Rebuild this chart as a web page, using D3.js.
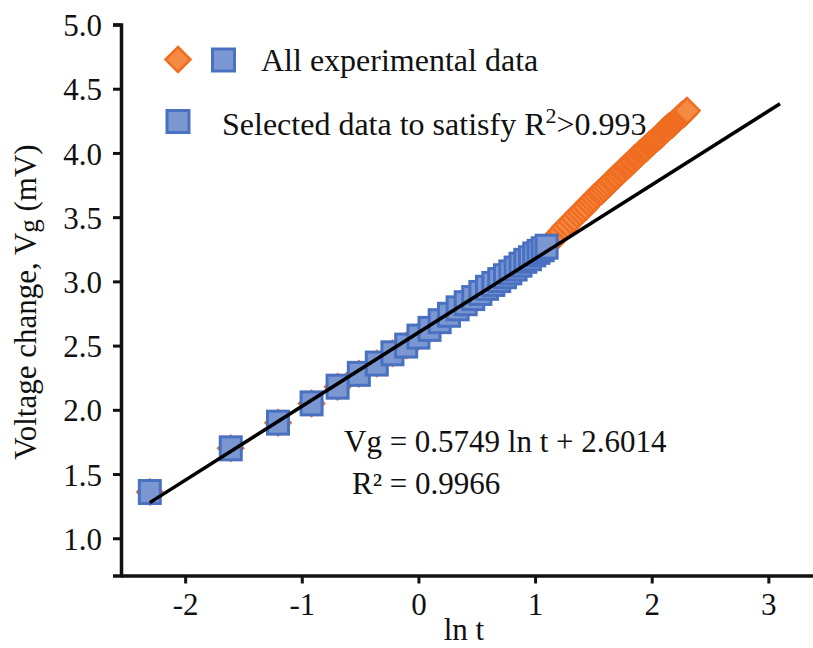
<!DOCTYPE html>
<html>
<head>
<meta charset="utf-8">
<script src="https://cdn.jsdelivr.net/npm/d3@7"></script>
<style>
  html, body { margin: 0; padding: 0; background: #fff; }
  svg { display: block; }
  svg text { font-family: "Liberation Serif", "Times New Roman", serif !important; fill: #111; }
</style>
</head>
<body>
<svg id="chart" width="813" height="648" font-family="Liberation Serif, serif"></svg>
<script>
// ln t for the selected points (t = 0.1 … 3.0 s)
const selectedLnT = [-2.303, -1.609, -1.204, -0.916, -0.693, -0.511, -0.357, -0.223, -0.105, 0.000,
  0.095, 0.182, 0.262, 0.336, 0.405, 0.470, 0.531, 0.588, 0.642, 0.693,
  0.742, 0.788, 0.833, 0.875, 0.916, 0.956, 0.993, 1.030, 1.065, 1.099];
const selectedVg = [1.36, 1.70, 1.90, 2.05, 2.18, 2.28, 2.36, 2.44, 2.50, 2.57,
  2.63, 2.69, 2.74, 2.79, 2.83, 2.87, 2.91, 2.95, 2.98, 3.01,
  3.04, 3.07, 3.10, 3.13, 3.16, 3.18, 3.21, 3.23, 3.25, 3.27];

// ln t for the remaining measurements (t = 3.1 … 10.0 s)
const laterLnT = [1.131, 1.163, 1.194, 1.224, 1.253, 1.281, 1.308, 1.335, 1.361, 1.386,
  1.411, 1.435, 1.459, 1.482, 1.504, 1.526, 1.548, 1.569, 1.589, 1.609,
  1.629, 1.649, 1.668, 1.686, 1.705, 1.723, 1.740, 1.758, 1.775, 1.792,
  1.808, 1.825, 1.841, 1.856, 1.872, 1.887, 1.902, 1.917, 1.932, 1.946,
  1.960, 1.974, 1.988, 2.001, 2.015, 2.028, 2.041, 2.054, 2.067, 2.079,
  2.092, 2.104, 2.116, 2.128, 2.140, 2.152, 2.163, 2.175, 2.186, 2.197,
  2.208, 2.219, 2.230, 2.241, 2.251, 2.262, 2.272, 2.282, 2.293, 2.303];
const laterVg = [3.30, 3.33, 3.36, 3.39, 3.42, 3.44, 3.47, 3.49, 3.52, 3.54,
  3.56, 3.58, 3.61, 3.63, 3.65, 3.67, 3.69, 3.70, 3.72, 3.74,
  3.76, 3.78, 3.79, 3.81, 3.82, 3.84, 3.86, 3.87, 3.89, 3.90,
  3.91, 3.93, 3.94, 3.96, 3.97, 3.98, 4.00, 4.01, 4.02, 4.03,
  4.04, 4.06, 4.07, 4.08, 4.09, 4.10, 4.11, 4.12, 4.13, 4.14,
  4.16, 4.17, 4.18, 4.19, 4.20, 4.21, 4.21, 4.22, 4.23, 4.24,
  4.25, 4.26, 4.27, 4.28, 4.29, 4.30, 4.30, 4.31, 4.32, 4.33];

// Logarithmic fit of the selected data
const fitSlope = 0.5749;
const fitIntercept = 2.6014;
const fitR2 = 0.9966;
const fitRange = [-2.303, 3.1];

const xTicks = [-2, -1, 0, 1, 2, 3];
const yTicks = [1.0, 1.5, 2.0, 2.5, 3.0, 3.5, 4.0, 4.5, 5.0];

const legendAll = "All experimental data";
const legendSelected = ["Selected data to satisfy R", "2", ">0.993"];

const allVg = selectedVg.concat(laterVg);
const allPoints = selectedLnT.concat(laterLnT).map((x, i) => ({ x, y: allVg[i] }));
const selectedPoints = selectedLnT.map((x, i) => ({ x, y: selectedVg[i] }));

const SERIF = "Liberation Serif, Times New Roman, serif";
const svg = d3.select("#chart");
const FONT = 31;

const x = d3.scaleLinear().domain([-2.55, 3.4]).range([121, 815]);
const y = d3.scaleLinear().domain([0.71, 5.0]).range([575.5, 24.5]);

const blueFill = "#7b97d1", blueStroke = "#4a71c1";
const orangeFill = "#f58b43", orangeStroke = "#f06d21";

// axes
const gx = svg.append("g").attr("transform", `translate(0,${y.range()[0]})`)
  .call(d3.axisBottom(x).tickValues(xTicks).tickSize(8).tickSizeOuter(0).tickPadding(9)
    .tickFormat(d => d < 0 ? "-" + Math.abs(d) : String(d)))
  .attr("font-family", SERIF).attr("font-size", FONT);
gx.select(".domain").attr("stroke", "#111").attr("stroke-width", 3.5);
gx.selectAll(".tick line").attr("stroke", "#111").attr("stroke-width", 3);
gx.selectAll(".tick text").attr("fill", "#111");

const gy = svg.append("g").attr("transform", `translate(${x.range()[0]},0)`)
  .call(d3.axisLeft(y).tickValues(yTicks).tickSize(8).tickSizeOuter(8).tickPadding(11)
    .tickFormat(d3.format(".1f")))
  .attr("font-family", SERIF).attr("font-size", FONT);
gy.select(".domain").attr("stroke", "#111").attr("stroke-width", 3.5);
gy.selectAll(".tick line").attr("stroke", "#111").attr("stroke-width", 3);
gy.selectAll(".tick text").attr("fill", "#111").attr("dy", "0.36em");

// axis titles
svg.append("text").attr("x", 464).attr("y", 640).attr("text-anchor", "middle")
  .attr("font-family", SERIF).attr("font-size", FONT).text("ln t");

const yl = svg.append("text").attr("transform", "translate(36,302) rotate(-90)")
  .attr("text-anchor", "middle").attr("font-family", SERIF).attr("font-size", FONT);
yl.append("tspan").text("Voltage change, V");
yl.append("tspan").attr("font-size", 27).attr("dy", 2).text("g");
yl.append("tspan").attr("dy", -2).text(" (mV)");

// markers: every measurement as an orange diamond, the selected ones as blue squares on top
const diamond = "M0,-12.5L12.5,0L0,12.5L-12.5,0Z";
svg.append("g").selectAll("path").data(allPoints).join("path")
  .attr("d", diamond)
  .attr("transform", d => `translate(${x(d.x)},${y(d.y)})`)
  .attr("fill", orangeFill).attr("stroke", orangeStroke).attr("stroke-width", 2.5);

const SW = 21, SH = 23;
svg.append("g").selectAll("rect").data(selectedPoints).join("rect")
  .attr("x", d => x(d.x) - SW / 2).attr("y", d => y(d.y) - SH / 2)
  .attr("width", SW).attr("height", SH)
  .attr("fill", blueFill).attr("stroke", blueStroke).attr("stroke-width", 3);

// fitted line
svg.append("line")
  .attr("x1", x(fitRange[0])).attr("y1", y(fitSlope * fitRange[0] + fitIntercept))
  .attr("x2", x(fitRange[1])).attr("y2", y(fitSlope * fitRange[1] + fitIntercept))
  .attr("stroke", "#000").attr("stroke-width", 3.5);

// equation
svg.append("text").attr("x", 344).attr("y", 452).attr("font-family", SERIF).attr("font-size", FONT)
  .text(`Vg = ${fitSlope} ln t + ${fitIntercept}`);
svg.append("text").attr("x", 352).attr("y", 494).attr("font-family", SERIF).attr("font-size", FONT)
  .text(`R² = ${fitR2}`);

// legend
const lg = svg.append("g").attr("font-family", SERIF);
lg.append("path").attr("d", diamond).attr("transform", "translate(178,59.5)")
  .attr("fill", orangeFill).attr("stroke", orangeStroke).attr("stroke-width", 2.5);
lg.append("rect").attr("x", 212.5).attr("y", 49).attr("width", 22).attr("height", 22)
  .attr("fill", blueFill).attr("stroke", blueStroke).attr("stroke-width", 3);
lg.append("text").attr("x", 261).attr("y", 70.5).attr("font-size", 32).text(legendAll);

lg.append("rect").attr("x", 167).attr("y", 110.5).attr("width", 22).attr("height", 22)
  .attr("fill", blueFill).attr("stroke", blueStroke).attr("stroke-width", 3);
const ls = lg.append("text").attr("x", 222).attr("y", 135).attr("font-size", 32);
ls.append("tspan").text(legendSelected[0]);
ls.append("tspan").attr("font-size", 22).attr("dy", -12).text(legendSelected[1]);
ls.append("tspan").attr("dy", 12).text(legendSelected[2]);
</script>
</body>
</html>
